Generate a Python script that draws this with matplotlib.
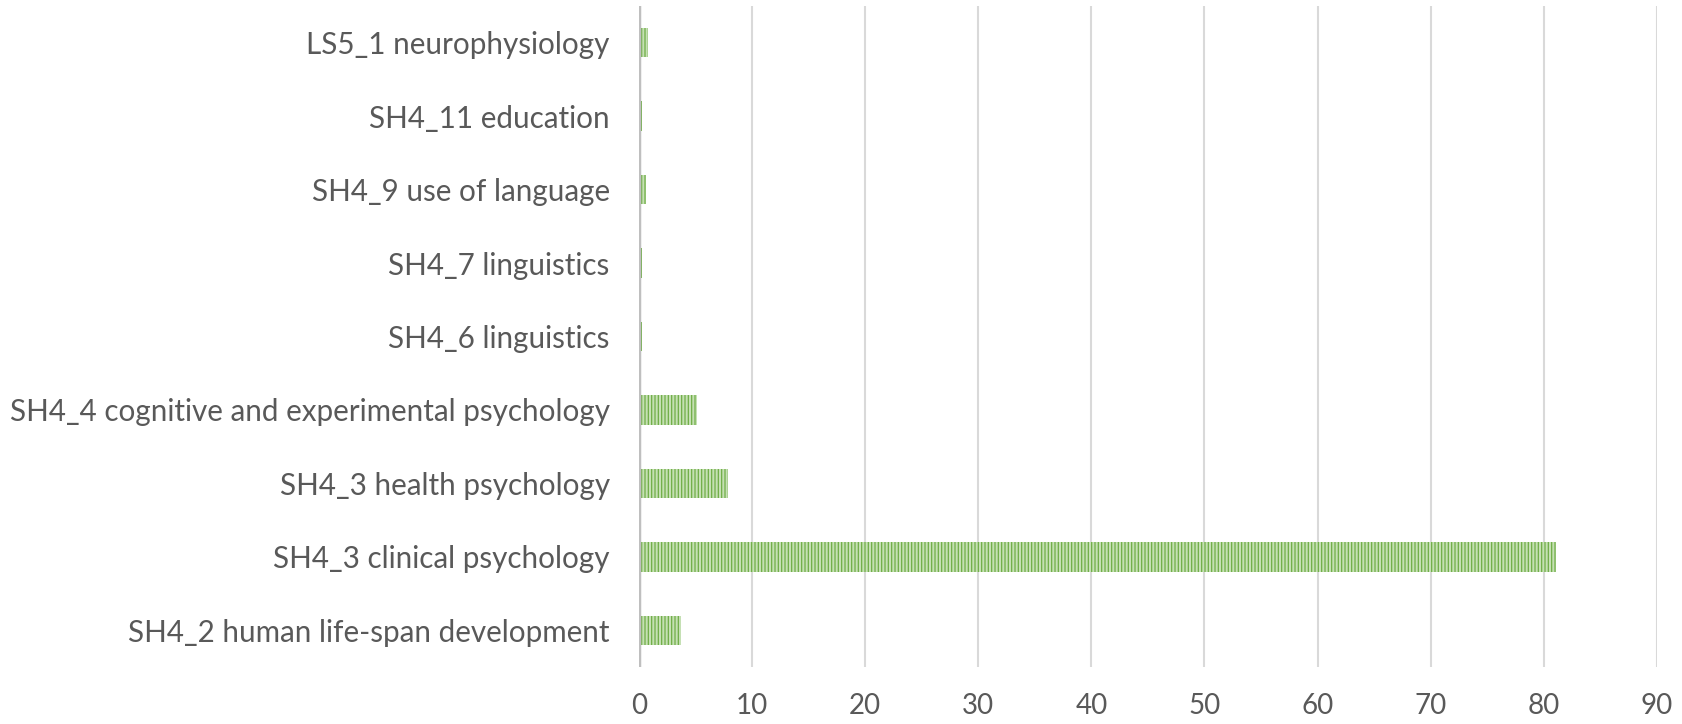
import matplotlib
matplotlib.use('Agg')
import matplotlib.pyplot as plt

# categories listed bottom to top, as drawn
categories = ['SH4_2 human life-span development', 'SH4_3 clinical psychology',
              'SH4_3 health psychology', 'SH4_4 cognitive and experimental psychology',
              'SH4_6 linguistics', 'SH4_7 linguistics', 'SH4_9 use of language',
              'SH4_11 education', 'LS5_1 neurophysiology']
values = [3.7, 81.1, 7.9, 5.1, 0.3, 0.3, 0.6, 0.3, 0.8]
xticks = [0, 10, 20, 30, 40, 50, 60, 70, 80, 90]

plt.rcParams['font.family'] = ['Lato', 'DejaVu Sans']
plt.rcParams['hatch.linewidth'] = 0.9

fig = plt.figure(figsize=(16.82, 7.24), dpi=100)
ax = fig.add_axes([0.3798, 0.0787, 0.9851 - 0.3798, 0.9917 - 0.0787])

ax.barh(range(len(categories)), values, height=0.4, color='#C5E0B4',
        edgecolor='#70AD47', linewidth=0, hatch='|||||', zorder=3)

ax.set_xlim(0, 90)
ax.set_ylim(-0.5, len(categories) - 0.5)
ax.set_xticks(xticks)
ax.set_yticks(range(len(categories)))
ax.set_yticklabels(categories)

ax.grid(axis='x', color='#D9D9D9', linewidth=1.5, zorder=0)
for key, spine in ax.spines.items():
    spine.set_visible(False)
ax.axvline(0, color='#BFBFBF', linewidth=2.5, zorder=4)

ax.tick_params(axis='both', length=0, colors='#595959')
ax.tick_params(axis='y', pad=21, labelsize=21.3)
ax.tick_params(axis='x', pad=19, labelsize=20)

fig.savefig('out.png', dpi=100)
